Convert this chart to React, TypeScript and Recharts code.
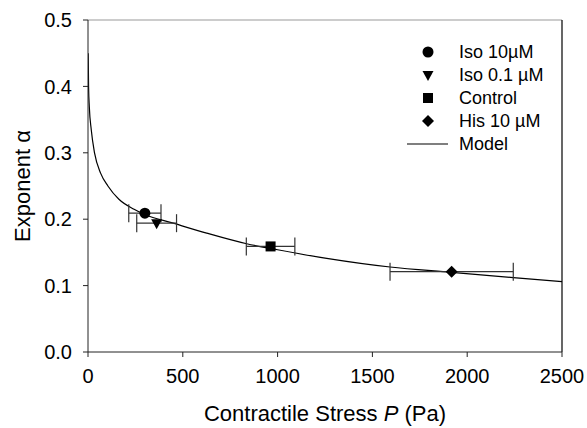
import React from 'react';
import {
  ComposedChart, Line, Scatter, ErrorBar, XAxis, YAxis, ReferenceLine, Legend,
} from 'recharts';

const FONT = '"Liberation Sans", Arial, sans-serif';

// measured points
const groups = ['Iso 10\u00b5M', 'Iso 0.1 \u00b5M', 'Control', 'His 10 \u00b5M'];
const markerKinds = ['circle', 'triangleDown', 'square', 'diamond'];
const stress = [300, 362, 963, 1918];
const alpha = [0.209, 0.194, 0.159, 0.121];
const stressErr = [85, 105, 128, 325];

// model curve
const modelP = [1, 3, 7, 17, 35, 67, 105, 163, 243, 300, 450, 626, 837, 1000, 1259, 1593, 1918, 2243, 2500];
const modelAlpha = [0.45, 0.4, 0.369, 0.335, 0.299, 0.269, 0.25, 0.23, 0.215, 0.207, 0.194, 0.179, 0.163, 0.154, 0.141, 0.128, 0.12, 0.112, 0.106];

const xTicks = [0, 500, 1000, 1500, 2000, 2500];
const yTicks = [0, 0.1, 0.2, 0.3, 0.4, 0.5];

const modelData = modelP.map((p, i) => ({ p, alpha: modelAlpha[i] }));
const pointData = groups.map((name, i) => [{ name, p: stress[i], alpha: alpha[i], err: stressErr[i] }]);

function Marker({ kind, cx, cy }: { kind: string; cx: number; cy: number }) {
  if (kind === 'circle') return <circle cx={cx} cy={cy} r={5.5} fill="#000" />;
  if (kind === 'square') return <rect x={cx - 5} y={cy - 5} width={10} height={10} fill="#000" />;
  if (kind === 'diamond') {
    return <polygon points={`${cx},${cy - 6} ${cx + 6},${cy} ${cx},${cy + 6} ${cx - 6},${cy}`} fill="#000" />;
  }
  return <polygon points={`${cx - 5.5},${cy - 4} ${cx + 5.5},${cy - 4} ${cx},${cy + 6}`} fill="#000" />;
}

const LegendBox = () => (
  <svg width={180} height={120} style={{ display: 'block' }}>
    {groups.map((name, i) => (
      <g key={name}>
        <Marker kind={markerKinds[i]} cx={28} cy={12 + 23 * i} />
        <text x={59} y={12 + 23 * i} dy="0.36em" fontSize={18} fontFamily={FONT} fill="#000">{name}</text>
      </g>
    ))}
    <line x1={7} x2={48} y1={12 + 23 * 4} y2={12 + 23 * 4} stroke="#000" strokeWidth={1.2} />
    <text x={59} y={12 + 23 * 4} dy="0.36em" fontSize={18} fontFamily={FONT} fill="#000">Model</text>
  </svg>
);

const YTitle = ({ viewBox }: any) => {
  const cx = viewBox.x + 22;
  const cy = viewBox.y + viewBox.height / 2;
  return (
    <text x={cx} y={cy} transform={`rotate(-90 ${cx} ${cy})`} textAnchor="middle" dy="0.36em"
      fontSize={22} fontFamily={FONT} fill="#000">
      Exponent {'\u03b1'}
    </text>
  );
};

const XTitle = ({ viewBox }: any) => (
  <text x={viewBox.x + viewBox.width / 2} y={421} textAnchor="middle" fontSize={22} fontFamily={FONT} fill="#000">
    Contractile Stress <tspan fontStyle="italic">P</tspan> (Pa)
  </text>
);

export default function App() {
  return (
    <div style={{ position: 'absolute', left: 0, top: 0, background: '#fff' }}>
      <ComposedChart width={587} height={428} margin={{ top: 20, right: 25, bottom: 0, left: 0 }}>
        <XAxis
          type="number" dataKey="p" domain={[0, 2500]} ticks={xTicks} allowDataOverflow
          height={76} tickSize={5} tickMargin={12} stroke="#222"
          tick={{ fill: '#000', fontSize: 20, fontFamily: FONT }}
          label={<XTitle />}
        />
        <YAxis
          type="number" dataKey="alpha" domain={[0, 0.5]} ticks={yTicks} allowDataOverflow
          width={88} tickSize={5} tickMargin={11} stroke="#222"
          tickFormatter={(v: number) => v.toFixed(1)}
          tick={{ fill: '#000', fontSize: 20, fontFamily: FONT }}
          label={<YTitle />}
        />
        <ReferenceLine y={0.5} stroke="#999" strokeWidth={1.2} />
        <ReferenceLine x={2500} stroke="#000" strokeWidth={1.2} />
        <Line data={modelData} dataKey="alpha" type="monotone" dot={false} stroke="#000"
          strokeWidth={1.2} isAnimationActive={false} legendType="none" />
        {groups.map((name, i) => (
          <Scatter key={name} name={name} data={pointData[i]} dataKey="alpha" isAnimationActive={false}
            shape={(props: any) => <Marker kind={markerKinds[i]} cx={props.cx} cy={props.cy} />}>
            <ErrorBar dataKey="err" direction="x" width={9} stroke="#333" strokeWidth={1.2}
              isAnimationActive={false} />
          </Scatter>
        ))}
        <Legend layout="vertical" align="center" verticalAlign="middle" content={<LegendBox />}
          wrapperStyle={{ left: 400, top: 40, width: 180, height: 120 }} />
      </ComposedChart>
    </div>
  );
}
